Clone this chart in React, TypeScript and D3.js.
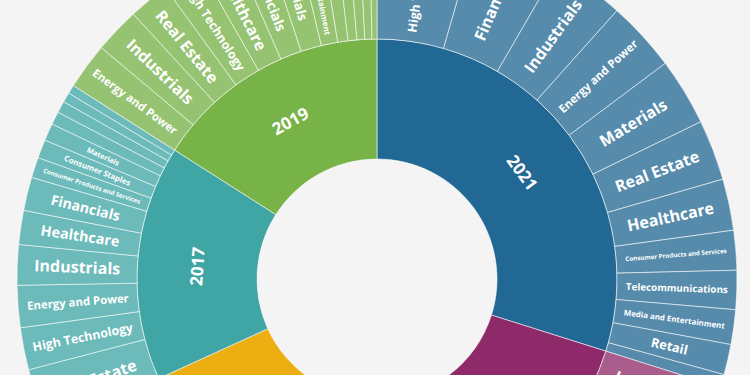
import * as d3 from 'd3'

// years, clockwise from the top
const YEARS = ['2021', '2023', '2015', '2017', '2019']
const YEAR_COLORS = ['#216894', '#8e2a6a', '#edae12', '#3fa6a5', '#77b347']

const SECTORS_2021 = ['High Technology', 'Financials', 'Industrials', 'Energy and Power', 'Materials', 'Real Estate', 'Healthcare', 'Consumer Products and Services', 'Telecommunications', 'Media and Entertainment', 'Retail', 'Consumer Staples']
const VALUES_2021 = [16.1, 14.0, 11.7, 11.4, 10.9, 9.8, 8.3, 6.4, 6.3, 5.6, 4.9, 2.1]

const SECTORS_2023 = ['Industrials', 'High Technology', 'Financials', 'Energy and Power', 'Real Estate', 'Healthcare', 'Materials', 'Consumer Products and Services', 'Telecommunications', 'Media and Entertainment', 'Retail', 'Consumer Staples', 'Government and Agencies']
const VALUES_2023 = [9.2, 7.6, 7.2, 6.8, 6.6, 6.3, 5.8, 5.4, 5.0, 4.5, 3.5, 2.6, 2.0]

const SECTORS_2015 = ['High Technology', 'Healthcare', 'Energy and Power', 'Financials', 'Industrials', 'Real Estate', 'Materials', 'Consumer Products and Services', 'Media and Entertainment', 'Telecommunications', 'Retail', 'Consumer Staples']
const VALUES_2015 = [9.5, 8.5, 8.0, 7.5, 7.0, 6.5, 5.5, 4.5, 3.5, 2.5, 2.0, 0.5]

const SECTORS_2017 = ['Real Estate', 'High Technology', 'Energy and Power', 'Industrials', 'Healthcare', 'Financials', 'Consumer Products and Services', 'Consumer Staples', 'Materials', 'Media and Entertainment', 'Retail', 'Telecommunications', 'Government and Agencies']
const VALUES_2017 = [9.9, 6.8, 6.8, 6.5, 5.5, 5.4, 3.3, 3.0, 2.8, 2.1, 1.9, 1.6, 1.4]

const SECTORS_2019 = ['Energy and Power', 'Industrials', 'Real Estate', 'High Technology', 'Healthcare', 'Financials', 'Materials', 'Media and Entertainment', 'Consumer Products and Services', 'Telecommunications', 'Retail', 'Consumer Staples', 'Government and Agencies']
const VALUES_2019 = [7.5, 7.4, 6.6, 6.4, 6.0, 5.2, 5.0, 4.0, 2.5, 2.1, 1.9, 1.7, 1.2]

const SECTORS = [SECTORS_2021, SECTORS_2023, SECTORS_2015, SECTORS_2017, SECTORS_2019]
const VALUES = [VALUES_2021, VALUES_2023, VALUES_2015, VALUES_2017, VALUES_2019]

const WIDTH = 750
const HEIGHT = 375
const CX = 377
const CY = 279
const RADIUS = 360
const BG = '#f4f4f4'
const FONT = '"Open Sans", sans-serif'

type Datum = { name: string; value?: number; children?: Datum[] }

const tree: Datum = {
  name: 'root',
  children: YEARS.map((y, i) => ({
    name: y,
    children: SECTORS[i].map((s, j) => ({ name: s, value: VALUES[i][j] })),
  })),
}

let ctx: CanvasRenderingContext2D | null = null
function textWidth(s: string) {
  if (!ctx) ctx = document.createElement('canvas').getContext('2d')
  ctx!.font = `700 100px "Open Sans"`
  return ctx!.measureText(s).width / 100
}

export default function App() {
  const root = d3.partition<Datum>().size([2 * Math.PI, RADIUS])(
    d3.hierarchy(tree).sum(d => d.value ?? 0)
  )
  const arc = d3.arc<d3.HierarchyRectangularNode<Datum>>()
    .startAngle(d => d.x0).endAngle(d => d.x1)
    .innerRadius(d => d.y0).outerRadius(d => d.y1)
  const color = d3.scaleOrdinal<string, string>(YEARS, YEAR_COLORS)
  const nodes = root.descendants().filter(d => d.depth > 0)

  const fillOf = (d: d3.HierarchyRectangularNode<Datum>) => {
    const year = d.depth === 1 ? d.data.name : d.parent!.data.name
    const c = color(year)
    return d.depth === 1 ? c : d3.interpolateRgb(c, BG)(0.25)
  }

  return (
    <div style={{ position: 'fixed', left: 0, top: 0, width: '100%', height: '100%', background: BG }}>
      <svg width={WIDTH} height={HEIGHT} style={{ display: 'block' }}>
        <rect width={WIDTH} height={HEIGHT} fill={BG} />
        <g transform={`translate(${CX},${CY})`}>
          {nodes.map((d, i) => (
            <path key={i} d={arc(d) ?? ''} fill={fillOf(d)}
              stroke="#fff" strokeOpacity={0.55} strokeWidth={1} />
          ))}
          {/* sector labels, radial, sized to fit the slice */}
          {nodes.filter(d => d.depth === 2).map((d, i) => {
            const mid = (d.x0 + d.x1) / 2
            const deg = mid * 180 / Math.PI
            const r = (d.y0 + d.y1) / 2
            const arcSize = 0.5 * r * (d.x1 - d.x0)
            if (arcSize < 7) return null
            const size = Math.min(16, arcSize, 102 / textWidth(d.data.name))
            return (
              <text key={i}
                transform={`rotate(${deg - 90}) translate(${r},0) rotate(${deg < 180 ? 0 : 180})`}
                textAnchor="middle" dy="0.35em" fill="#fff"
                fontFamily={FONT} fontWeight={700} fontSize={size}>
                {d.data.name}
              </text>
            )
          })}
          {/* year labels, along the ring */}
          {nodes.filter(d => d.depth === 1).map((d, i) => {
            const deg = (d.x0 + d.x1) / 2 * 180 / Math.PI
            const r = (d.y0 + d.y1) / 2
            const flip = deg > 90 && deg < 270
            return (
              <text key={i}
                transform={`rotate(${deg}) translate(0,${-r}) rotate(${flip ? 180 : 0})`}
                textAnchor="middle" dy="0.35em" fill="#fff"
                fontFamily={FONT} fontWeight={700} fontSize={17}>
                {d.data.name}
              </text>
            )
          })}
        </g>
      </svg>
    </div>
  )
}
